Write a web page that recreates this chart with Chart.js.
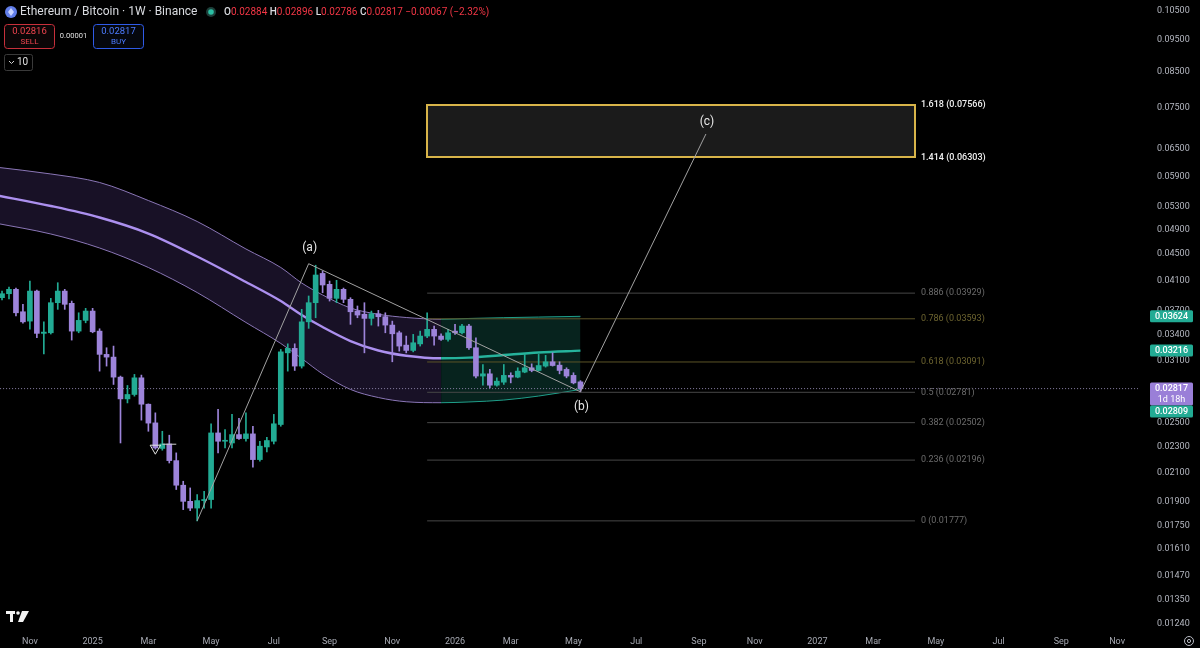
<!DOCTYPE html>
<html>
<head>
<meta charset="utf-8">
<script src="https://cdn.jsdelivr.net/npm/chart.js@4.4.1/dist/chart.umd.min.js"></script>
<style>
  html, body { margin: 0; padding: 0; background: #000; }
  #wrap { width: 1200px; height: 648px; }
</style>
</head>
<body>
<div id="wrap"><canvas id="chart" width="1200" height="648"></canvas></div>
<script>
// weekly candles, week 0 = 2024-10-07
const opens = [0.03867,0.03921,0.03981,0.03682,0.03564,0.03957,0.03415,0.03422,0.03800,0.03957,
  0.03792,0.03442,0.03573,0.03691,0.03442,0.03174,0.03144,0.02932,0.02718,0.02760,
  0.02925,0.02668,0.02500,0.02287,0.02323,0.02192,0.02012,0.01902,0.01858,0.01907,
  0.01914,0.02414,0.02345,0.02331,0.02400,0.02367,0.02406,0.02200,0.02299,0.02345,
  0.02486,0.03191,0.03241,0.03047,0.03555,0.03800,0.04208,0.04051,0.03858,0.03981,
  0.03845,0.03691,0.03649,0.03598,0.03657,0.03619,0.03515,0.03422,0.03278,0.03218,
  0.03292,0.03383,0.03463,0.03383,0.03344,0.03442,0.03422,0.03503,0.03248,0.02943,
  0.02966,0.02851,0.02881,0.02950,0.02932,0.02984,0.03029,0.03001,0.03047,0.03093,
  0.03057,0.03012,0.02950,0.02884];
const highs = [0.03957,0.04013,0.03999,0.03779,0.04098,0.03971,0.03555,0.03858,0.04074,0.03981,
  0.03822,0.03669,0.03726,0.03726,0.03470,0.03248,0.03267,0.02943,0.02848,0.02960,
  0.02953,0.02671,0.02589,0.02428,0.02395,0.02252,0.02040,0.01993,0.01947,0.01970,
  0.02492,0.02620,0.02443,0.02575,0.02539,0.02589,0.02471,0.02345,0.02378,0.02575,
  0.03229,0.03293,0.03293,0.03713,0.03890,0.04330,0.04243,0.04098,0.04108,0.03999,
  0.03867,0.03757,0.03800,0.03691,0.03700,0.03669,0.03564,0.03442,0.03383,0.03403,
  0.03442,0.03669,0.03503,0.03410,0.03463,0.03524,0.03524,0.03524,0.03363,0.03064,
  0.03012,0.02925,0.03064,0.02977,0.03029,0.03174,0.03071,0.03174,0.03163,0.03191,
  0.03093,0.03029,0.02977,0.02896];
const lows = [0.03836,0.03849,0.03628,0.03540,0.03466,0.03363,0.03180,0.03407,0.03713,0.03713,
  0.03336,0.03422,0.03543,0.03422,0.02994,0.03047,0.02858,0.02331,0.02680,0.02744,
  0.02524,0.02428,0.02281,0.02273,0.02174,0.01982,0.01848,0.01841,0.01777,0.01858,
  0.01858,0.02252,0.02291,0.02291,0.02361,0.02345,0.02142,0.02187,0.02259,0.02323,
  0.02471,0.02994,0.03001,0.03026,0.03475,0.03606,0.03934,0.03822,0.03800,0.03800,
  0.03524,0.03606,0.03191,0.03515,0.03503,0.03422,0.03093,0.03210,0.03191,0.03202,
  0.03267,0.03363,0.03278,0.03332,0.03324,0.03403,0.03407,0.03229,0.02925,0.02851,
  0.02825,0.02841,0.02858,0.02874,0.02925,0.02977,0.02987,0.02994,0.03036,0.03047,
  0.02966,0.02925,0.02864,0.02786];
const closes = [0.03921,0.03981,0.03669,0.03555,0.03957,0.03415,0.03430,0.03800,0.03957,0.03779,
  0.03442,0.03573,0.03691,0.03434,0.03174,0.03144,0.02932,0.02718,0.02760,0.02925,
  0.02668,0.02498,0.02291,0.02323,0.02192,0.02012,0.01902,0.01858,0.01907,0.01914,
  0.02414,0.02345,0.02351,0.02400,0.02367,0.02406,0.02200,0.02305,0.02351,0.02492,
  0.03202,0.03241,0.03047,0.03555,0.03800,0.04185,0.04042,0.03858,0.03981,0.03845,
  0.03682,0.03640,0.03598,0.03657,0.03619,0.03515,0.03410,0.03267,0.03218,0.03305,
  0.03383,0.03463,0.03383,0.03344,0.03422,0.03422,0.03503,0.03248,0.02943,0.02966,
  0.02851,0.02891,0.02950,0.02932,0.02994,0.03029,0.03001,0.03053,0.03093,0.03053,
  0.03001,0.02943,0.02874,0.02817];

// trend band (upper / basis / lower)
const bandWeeks = [-1, 7, 14, 21, 28, 35, 40, 43, 46, 50, 54, 58, 63, 67, 72, 77, 83];
const bandUpper = [0.06097,0.05951,0.05777,0.05425,0.05043,0.04582,0.04296,0.04070,0.03904,0.03731,0.03650,0.03609,0.03587,0.03597,0.03607,0.03615,0.03624];
const bandMid   = [0.05530,0.05323,0.05113,0.04836,0.04464,0.04084,0.03822,0.03640,0.03491,0.03325,0.03217,0.03159,0.03131,0.03138,0.03167,0.03195,0.03216];
const bandLower = [0.05016,0.04828,0.04598,0.04296,0.03937,0.03547,0.03297,0.03129,0.02965,0.02809,0.02731,0.02691,0.02682,0.02689,0.02707,0.02745,0.02809];
const bandSwitchWeek = 63;

// fib levels
const fibLabels = ['0', '0.236', '0.382', '0.5', '0.618', '0.786', '0.886', '1.414', '1.618'];
const fibPrices = [0.01777, 0.02196, 0.02502, 0.02781, 0.03091, 0.03593, 0.03929, 0.06303, 0.07566];
const fibStartWeek = 61;
const fibEndWeek = 131;

// wave count
const waveWeeks = [28, 44, 83, 101];
const wavePrices = [0.01777, 0.04353, 0.02786, 0.0684];
const waveNames = ['', '(a)', '(b)', '(c)'];

// signal marker
const markerWeek = 22;
const markerPrice = 0.02289;
const tickWeeks = [23, 25];
const tickPrice = 0.02321;

// axes
const monthLabels = ['Nov','2025','Mar','May','Jul','Sep','Nov','2026','Mar','May','Jul','Sep','Nov','2027','Mar','May','Jul','Sep','Nov'];
const monthWeeks = [4, 13, 21, 30, 39, 47, 56, 65, 73, 82, 91, 100, 108, 117, 125, 134, 143, 152, 160];
const priceTicks = [0.105, 0.095, 0.085, 0.075, 0.065, 0.059, 0.053, 0.049, 0.045, 0.041, 0.037, 0.034, 0.031, 0.028, 0.025, 0.023, 0.021, 0.019, 0.0175, 0.0161, 0.0147, 0.0135, 0.0124];

const GREEN = '#22ab94';
const PURPLE = '#9d84da';
const last = opens.length - 1;
const weeks = opens.map((_, i) => i);
const candleColors = opens.map((o, i) => closes[i] >= o ? GREEN : PURPLE);

function rrect(ctx, x, y, w, h, r) {
  ctx.beginPath();
  ctx.moveTo(x + r, y);
  ctx.arcTo(x + w, y, x + w, y + h, r);
  ctx.arcTo(x + w, y + h, x, y + h, r);
  ctx.arcTo(x, y + h, x, y, r);
  ctx.arcTo(x, y, x + w, y, r);
  ctx.closePath();
}

const bandSeg = (purple, green) => (c) => c.p0.parsed.x >= bandSwitchWeek ? green : purple;
const toPts = (xs, ys) => xs.map((x, i) => ({x: x, y: ys[i]}));

const datasets = [];
// band
datasets.push({
  type: 'line', data: toPts(bandWeeks, bandUpper), borderWidth: 1, pointRadius: 0,
  cubicInterpolationMode: 'monotone', fill: '+2', order: 20,
  borderColor: '#8a76b6', backgroundColor: 'rgba(126,92,200,0.19)',
  segment: { borderColor: bandSeg('#8a76b6', '#1f9e89'), backgroundColor: bandSeg('rgba(126,92,200,0.19)', 'rgba(30,160,135,0.22)') }
});
datasets.push({
  type: 'line', data: toPts(bandWeeks, bandMid), borderWidth: 2.4, pointRadius: 0,
  cubicInterpolationMode: 'monotone', fill: false, order: 19,
  borderColor: '#ac90ef', segment: { borderColor: bandSeg('#ac90ef', '#26b39c') }
});
datasets.push({
  type: 'line', data: toPts(bandWeeks, bandLower), borderWidth: 1, pointRadius: 0,
  cubicInterpolationMode: 'monotone', fill: false, order: 18,
  borderColor: '#8a76b6', segment: { borderColor: bandSeg('#8a76b6', '#1f9e89') }
});
// fib lines (below 1)
fibPrices.forEach((p, i) => {
  if (i > 6) return;
  const olive = fibLabels[i] === '0.618' || fibLabels[i] === '0.786';
  datasets.push({
    type: 'line', data: [{x: fibStartWeek, y: p}, {x: fibEndWeek, y: p}],
    borderColor: olive ? '#5c5427' : '#474747', borderWidth: 1, pointRadius: 0, order: 15
  });
});
// last price line
datasets.push({
  type: 'line', data: [{x: -2, y: closes[last]}, {x: 170, y: closes[last]}],
  borderColor: '#8c82a8', borderWidth: 1, borderDash: [1, 2], pointRadius: 0, order: 14
});
// candles
datasets.push({
  type: 'bar', data: weeks.map((w, i) => ({x: w, y: [lows[i], highs[i]]})),
  backgroundColor: candleColors, barThickness: 1, grouped: false, order: 6
});
datasets.push({
  type: 'bar', data: weeks.map((w, i) => ({x: w, y: [Math.min(opens[i], closes[i]), Math.max(opens[i], closes[i])]})),
  backgroundColor: candleColors, barThickness: 5, minBarLength: 1, grouped: false, order: 5
});
// waves
datasets.push({
  type: 'line', data: toPts(waveWeeks, wavePrices), borderColor: '#a2a2a2', borderWidth: 1,
  pointRadius: 0, tension: 0, order: 2
});
// marker
datasets.push({
  type: 'line', data: [{x: tickWeeks[0], y: tickPrice}, {x: tickWeeks[1], y: tickPrice}],
  borderColor: '#cfcfcf', borderWidth: 1, pointRadius: 0, order: 1
});
datasets.push({
  type: 'scatter', data: [{x: markerWeek, y: markerPrice}], pointStyle: 'triangle', rotation: 180,
  radius: 6, borderColor: '#e6e6e6', borderWidth: 1, backgroundColor: 'rgba(0,0,0,0)', order: 1
});

const overlay = {
  id: 'overlay',
  beforeDatasetsDraw(chart) {
    const {ctx, scales: {x, y}} = chart;
    const x0 = Math.round(x.getPixelForValue(fibStartWeek)), x1 = Math.round(x.getPixelForValue(fibEndWeek));
    const yt = Math.round(y.getPixelForValue(fibPrices[8])), yb = Math.round(y.getPixelForValue(fibPrices[7]));
    ctx.save();
    ctx.fillStyle = '#1b1b1b';
    ctx.fillRect(x0, yt, x1 - x0, yb - yt);
    ctx.fillStyle = '#d8b449';
    ctx.fillRect(x0 - 1, yt - 1, x1 - x0 + 2, 2);
    ctx.fillRect(x0 - 1, yb - 1, x1 - x0 + 2, 2);
    ctx.fillRect(x0 - 1, yt - 1, 2, yb - yt + 2);
    ctx.fillRect(x1 - 1, yt - 1, 2, yb - yt + 2);
    ctx.restore();
  },
  afterDraw(chart) {
    const {ctx, scales: {x, y}} = chart;
    ctx.save();
    ctx.textBaseline = 'middle';

    // fib labels
    const lx = x.getPixelForValue(fibEndWeek) + 6;
    fibPrices.forEach((p, i) => {
      const lab = fibLabels[i];
      let col = '#6c6c6c';
      let weight = '400';
      if (lab === '0.618' || lab === '0.786') col = '#6e6530';
      if (i > 6) { col = '#f0f0f0'; weight = '500'; }
      ctx.font = weight + ' 9px Roboto';
      ctx.fillStyle = col;
      ctx.textAlign = 'left';
      ctx.fillText(lab + ' (' + p.toFixed(5) + ')', lx, y.getPixelForValue(p));
    });

    // wave labels
    ctx.font = '12px Roboto';
    ctx.fillStyle = '#e8e8e8';
    ctx.textAlign = 'center';
    const offs = [0, -16, 15, -12];
    waveWeeks.forEach((w, i) => {
      if (!waveNames[i]) return;
      ctx.fillText(waveNames[i], x.getPixelForValue(w) + 1, y.getPixelForValue(wavePrices[i]) + offs[i]);
    });

    // right axis badges
    const bx = 1150, bw = 43;
    function badge(yc, col, h) {
      ctx.fillStyle = col;
      rrect(ctx, bx, yc - 6, bw, h || 12, 1.5);
      ctx.fill();
    }
    ctx.font = '500 9px Roboto';
    const badges = [[bandUpper[bandUpper.length - 1], GREEN], [bandMid[bandMid.length - 1], GREEN]];
    badges.forEach(([v, c]) => {
      const yc = y.getPixelForValue(v);
      badge(yc, c);
      ctx.fillStyle = '#fff';
      ctx.fillText(v.toFixed(5), bx + bw / 2, yc + 0.5);
    });
    const yl = y.getPixelForValue(closes[last]);
    badge(yl, '#9a7fd8', 23);
    ctx.fillStyle = '#fff';
    ctx.fillText(closes[last].toFixed(5), bx + bw / 2, yl + 0.5);
    ctx.font = '9px Roboto';
    ctx.fillText('1d 18h', bx + bw / 2, yl + 11);
    const lowV = bandLower[bandLower.length - 1];
    badge(yl + 23, GREEN);
    ctx.font = '500 9px Roboto';
    ctx.fillStyle = '#fff';
    ctx.fillText(lowV.toFixed(5), bx + bw / 2, yl + 23.5);

    // header
    ctx.textAlign = 'left';
    ctx.fillStyle = '#627eea';
    ctx.beginPath(); ctx.arc(11, 12, 6, 0, Math.PI * 2); ctx.fill();
    ctx.fillStyle = '#c9d3ff';
    ctx.beginPath(); ctx.moveTo(11, 8); ctx.lineTo(14, 12); ctx.lineTo(11, 16); ctx.lineTo(8, 12); ctx.closePath(); ctx.fill();
    ctx.font = '12px Roboto';
    ctx.fillStyle = '#d9dbe0';
    ctx.fillText('Ethereum / Bitcoin · 1W · Binance', 20, 12);
    ctx.fillStyle = '#1d3f3a';
    ctx.beginPath(); ctx.arc(211, 12, 5, 0, Math.PI * 2); ctx.fill();
    ctx.fillStyle = '#2bbfa4';
    ctx.beginPath(); ctx.arc(211, 12, 2.8, 0, Math.PI * 2); ctx.fill();
    const chg = closes[last] - opens[last];
    const pct = chg / opens[last] * 100;
    const parts = [
      ['O', '#d9dbe0'], [opens[last].toFixed(5), '#f23645'],
      [' H', '#d9dbe0'], [highs[last].toFixed(5), '#f23645'],
      [' L', '#d9dbe0'], [lows[last].toFixed(5), '#f23645'],
      [' C', '#d9dbe0'], [closes[last].toFixed(5), '#f23645'],
      [' \u2212' + Math.abs(chg).toFixed(5) + ' (\u2212' + Math.abs(pct).toFixed(2) + '%)', '#f23645']
    ];
    let hx = 224;
    parts.forEach(([t, c], i) => {
      ctx.font = (i % 2 === 0 && i < 8 ? '500 ' : '') + '10px Roboto';
      ctx.fillStyle = c;
      ctx.fillText(t, hx, 12);
      hx += ctx.measureText(t).width;
    });

    // sell / buy
    ctx.lineWidth = 1;
    ctx.strokeStyle = '#c8303b';
    ctx.fillStyle = '#0c0607';
    rrect(ctx, 4.5, 24.5, 50, 24, 3); ctx.fill(); ctx.stroke();
    ctx.strokeStyle = '#2f5be8';
    ctx.fillStyle = '#05070d';
    rrect(ctx, 93.5, 24.5, 50, 24, 3); ctx.fill(); ctx.stroke();
    ctx.textAlign = 'center';
    ctx.font = '9.5px Roboto';
    ctx.fillStyle = '#f0454f';
    ctx.fillText('0.02816', 29.5, 31.5);
    ctx.font = '8px Roboto';
    ctx.fillText('SELL', 29.5, 42);
    ctx.font = '9.5px Roboto';
    ctx.fillStyle = '#4d7cff';
    ctx.fillText('0.02817', 118.5, 31.5);
    ctx.font = '8px Roboto';
    ctx.fillText('BUY', 118.5, 42);
    ctx.fillStyle = '#e0e0e0';
    ctx.font = '7.5px Roboto';
    ctx.fillText('0.00001', 73.5, 36);
    ctx.strokeStyle = '#3a3a3a';
    rrect(ctx, 4.5, 54.5, 28, 16, 2); ctx.stroke();
    ctx.strokeStyle = '#d0d0d0';
    ctx.beginPath(); ctx.moveTo(9, 61); ctx.lineTo(11.5, 63.5); ctx.lineTo(14, 61); ctx.stroke();
    ctx.fillStyle = '#e0e0e0';
    ctx.font = '10px Roboto';
    ctx.textAlign = 'left';
    ctx.fillText('10', 17, 62.5);

    // TV logo
    ctx.fillStyle = '#f2f2f2';
    ctx.fillRect(6, 611, 9, 3);
    ctx.fillRect(10, 611, 3, 11);
    ctx.beginPath(); ctx.arc(18, 613, 1.8, 0, Math.PI * 2); ctx.fill();
    ctx.beginPath(); ctx.moveTo(22, 611); ctx.lineTo(29, 611); ctx.lineTo(23, 622); ctx.lineTo(18, 622); ctx.closePath(); ctx.fill();

    // settings gear
    ctx.strokeStyle = '#b8bbc4';
    ctx.lineWidth = 1;
    ctx.beginPath(); ctx.arc(1189, 641, 4.5, 0, Math.PI * 2); ctx.stroke();
    ctx.beginPath(); ctx.arc(1189, 641, 1.6, 0, Math.PI * 2); ctx.stroke();
    ctx.restore();
  }
};

new Chart(document.getElementById('chart'), {
  type: 'bar',
  data: { datasets: datasets },
  options: {
    responsive: false,
    animation: false,
    devicePixelRatio: 1,
    layout: { padding: 0, autoPadding: false },
    plugins: { legend: { display: false }, tooltip: { enabled: false } },
    scales: {
      x: {
        type: 'linear', min: -0.29, max: 163.0, offset: false,
        grid: { display: false, drawTicks: false }, border: { display: false },
        afterBuildTicks: (s) => { s.ticks = monthWeeks.map(v => ({ value: v })); },
        afterFit: (s) => { s.height = 20; s.paddingLeft = 0; s.paddingRight = 0; },
        ticks: {
          autoSkip: false, maxRotation: 0, padding: 8, color: '#a6a9b2',
          font: { family: 'Roboto', size: 9 },
          callback: (v, i) => monthLabels[i]
        }
      },
      y: {
        type: 'logarithmic', position: 'right', min: 0.012234, max: 0.10910,
        grid: { display: false, drawTicks: false }, border: { display: false },
        afterBuildTicks: (s) => { s.ticks = priceTicks.map(v => ({ value: v })); },
        afterFit: (s) => { s.width = 62; s.paddingTop = 0; s.paddingBottom = 0; },
        ticks: {
          padding: 19, color: '#b4b7c0', font: { family: 'Roboto', size: 9 },
          callback: (v) => Number(v).toFixed(5)
        }
      }
    }
  },
  plugins: [overlay]
});
</script>
</body>
</html>
